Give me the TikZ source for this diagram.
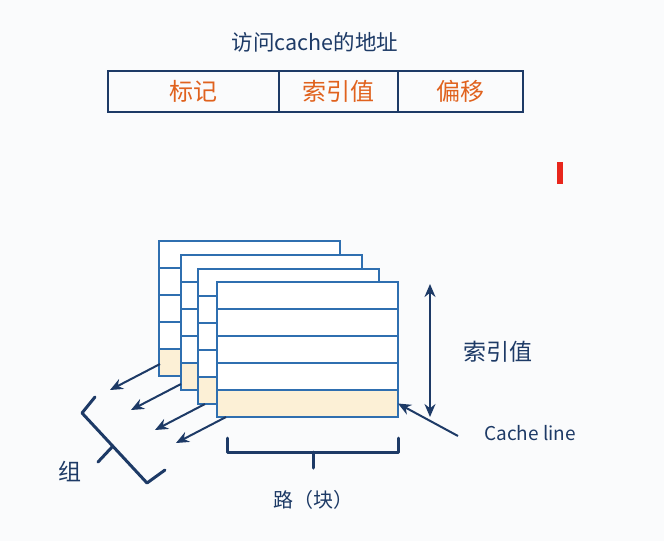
\documentclass[tikz,border=0pt]{standalone}
\usepackage{fontspec}
\setmainfont{Noto Sans CJK SC}
\usetikzlibrary{positioning,calc,arrows.meta}

\definecolor{CacheBlue}{HTML}{2F6FB0}
\definecolor{CacheNavy}{HTML}{1D3A66}
\definecolor{CacheYellow}{HTML}{FCF0D6}
\definecolor{CacheOrange}{HTML}{E0621E}
\definecolor{CacheRed}{HTML}{E8261C}
\definecolor{CachePaper}{HTML}{FAFBFC}

\tikzstyle{way-row}=[draw=CacheBlue, line width=2pt, fill=white, minimum width=181pt, minimum height=27pt, inner sep=0pt, outer sep=0pt]
\tikzstyle{addr-field}=[draw=CacheNavy, line width=2.2pt, minimum height=41pt, inner sep=0pt, outer sep=0pt, text=CacheOrange, font=\fontsize{24}{28}\selectfont]
\tikzstyle{pointer}=[draw=CacheNavy, line width=2pt, -{Stealth[length=13pt,width=11pt]}]
\tikzstyle{bracket}=[draw=CacheNavy, line width=3pt, line join=round, line cap=round]
\tikzstyle{label-text}=[text=CacheNavy, inner sep=0pt]

\begin{document}
\begin{tikzpicture}[x=1pt, y=-1pt]
  \fill[CachePaper] (0,0) rectangle (664,541);
  \useasboundingbox (0,0) rectangle (664,541);

  % address
  \node (title) at (315,42) [label-text, font=\fontsize{21.5}{26}\selectfont] {访问cache的地址};
  \node (addr-tag) at (193.5,91.5) [addr-field, minimum width=171pt] {标记};
  \node (addr-index) [addr-field, minimum width=119pt, right=0pt of addr-tag] {索引值};
  \node (addr-offset) [addr-field, minimum width=125pt, right=0pt of addr-index] {偏移};

  \fill[CacheRed] (557,162) rectangle (563,184);

  % ways
  \foreach \w/\x/\y in {1/159/241, 2/181/255, 3/198/269, 4/217/282} {
    \node (way\w-row1) at (\x+90.5,\y+13.5) [way-row] {};
    \foreach \r [count=\p] in {2,3,4} {
      \node (way\w-row\r) [way-row, below=0pt of way\w-row\p] {};
    }
    \node (way\w-row5) [way-row, fill=CacheYellow, below=0pt of way\w-row4] {};
  }

  % sets
  \foreach \w/\dx/\dy in {1/1/-12, 2/0/-6, 3/7/0, 4/9/0} {
    \coordinate (set\w-tail) at ($(way\w-row5.south west)+(\dx,\dy)$);
    \coordinate (set\w-tip) at ($(set\w-tail)+(-50,26)$);
    \draw[pointer] (set\w-tail) -- (set\w-tip);
  }
  \draw[bracket] (95,397) -- (82,413) -- (147,483) -- (165,470) (113,446) -- (98,462);
  \node (label-set) at (70,472) [label-text, font=\fontsize{23}{27}\selectfont] {组};

  % index span
  \coordinate (span-top) at ($(way4-row1.north east)+(32,2)$);
  \coordinate (span-bottom) at ($(way4-row5.south east)+(32,0)$);
  \draw[pointer, {Stealth[length=13pt,width=11pt]}-{Stealth[length=13pt,width=11pt]}] (span-top) -- (span-bottom);
  \node (label-index) at (498,352) [label-text, font=\fontsize{23}{27}\selectfont] {索引值};

  % cache line
  \node (label-line) at (530,433) [label-text, font=\fontsize{19}{23}\selectfont] {Cache line};
  \coordinate (line-tail) at (458,436);
  \draw[pointer] (line-tail) -- (way4-row5.east);

  % ways bracket
  \draw[bracket] (227,438) |- (398,452) -- (398,438) (313,452) -- (313,468);
  \node (label-way) at (313,500) [label-text, font=\fontsize{20}{24}\selectfont] {路（块）};
\end{tikzpicture}
\end{document}
